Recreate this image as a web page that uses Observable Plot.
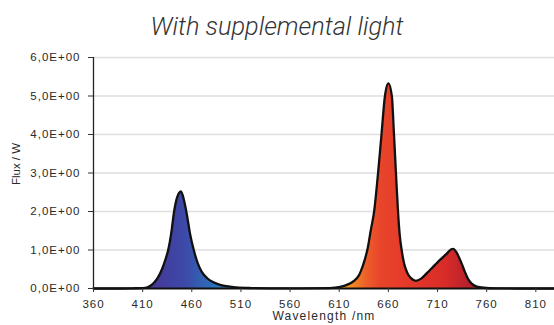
<!DOCTYPE html>
<html>
<head>
<meta charset="utf-8">
<script src="https://cdn.jsdelivr.net/npm/d3@7"></script>
<script src="https://cdn.jsdelivr.net/npm/@observablehq/plot@0.6"></script>
<style>
  html, body { margin: 0; padding: 0; background: #fff; }
  #title {
    width: 554px; height: 47px; box-sizing: border-box; padding-top: 12px;
    text-align: center; font-family: Roboto, "Open Sans", sans-serif;
    font-weight: 300; font-style: italic; font-size: 25.3px; line-height: 30px; color: #333;
  }
</style>
</head>
<body>
<div id="title">With supplemental light</div>
<div id="chart"></div>
<script>
// Spectrum samples (wavelength in nm, flux in W)
const wavelength = [360, 380, 400, 410, 415, 418, 422, 425, 430, 433, 436, 439, 442, 445, 449, 452, 455, 458, 462, 466, 470, 476, 482, 488, 495, 505, 520, 540, 570, 600, 611, 620, 625, 630, 632, 636, 639, 642, 645.5, 649.5, 653, 656.5, 660, 663.5, 665.7, 667.7, 669.8, 671.5, 673.5, 676, 679, 683, 688, 693, 700, 705, 710, 715, 720, 724, 726, 729, 732, 735, 738, 741, 745, 750, 757, 770, 800, 829];
const flux = [0, 0, 0.005, 0.01, 0.03, 0.07, 0.16, 0.26, 0.52, 0.74, 1.0, 1.42, 2.0, 2.36, 2.52, 2.3, 1.92, 1.45, 1.0, 0.66, 0.44, 0.26, 0.16, 0.1, 0.06, 0.03, 0.012, 0.005, 0.003, 0.01, 0.04, 0.12, 0.2, 0.34, 0.45, 0.75, 1.05, 1.5, 2.0, 3.0, 4.0, 5.0, 5.33, 5.0, 4.0, 3.0, 2.0, 1.4, 1.0, 0.65, 0.42, 0.27, 0.2, 0.25, 0.42, 0.55, 0.68, 0.8, 0.92, 1.02, 1.03, 0.95, 0.8, 0.62, 0.42, 0.25, 0.12, 0.05, 0.02, 0.005, 0, 0];

const xTicks = [360, 410, 460, 510, 560, 610, 660, 710, 760, 810];
const yTicks = [0, 1, 2, 3, 4, 5, 6];
const yTickLabels = ["0,0E+00", "1,0E+00", "2,0E+00", "3,0E+00", "4,0E+00", "5,0E+00", "6,0E+00"];
const xLabel = "Wavelength /nm";
const yLabel = "Flux / W";

// gradient colour stops (wavelength -> colour)
const stopWavelength = [415, 435, 455, 485, 612, 625, 638, 652, 680, 718, 745];
const stopColor = ["#4a3896", "#413f9f", "#3c4ba9", "#2a74bd", "#f5b020", "#f28526", "#ed5f29", "#e8452a", "#e4392a", "#d82c28", "#b31f2d"];

const data = wavelength.map((w, i) => ({w, f: flux[i]}));

const plot = Plot.plot({
  width: 554,
  height: 278,
  marginTop: 10,
  marginBottom: 37,
  marginLeft: 93,
  marginRight: 0,
  style: {fontFamily: "'Liberation Sans', Arial, sans-serif", fontSize: "11.5px", color: "#2a2a2a", letterSpacing: "1px", background: "#fff"},
  x: {domain: [360, 829]},
  y: {domain: [0, 6]},
  marks: [
    Plot.ruleY(yTicks.filter(d => d > 0), {stroke: "#dedede", strokeWidth: 1.5}),
    Plot.areaY(data, {x: "w", y: "f", fill: "url(#spectrumGrad)", curve: "monotone-x"}),
    Plot.lineY(data, {x: "w", y: "f", stroke: "#111", strokeWidth: 2.3, curve: "monotone-x"}),
    Plot.ruleY([0], {stroke: "#111", strokeWidth: 1.8}),
    Plot.ruleX([360], {y1: 0, y2: 6, stroke: "#222", strokeWidth: 1.3}),
    Plot.axisY({ticks: yTicks, tickFormat: (d, i) => yTickLabels[i], tickSize: 5, tickPadding: 8, label: null, stroke: "#333"}),
    Plot.axisX({ticks: xTicks, tickFormat: d => String(d), tickSize: 4, tickPadding: 7, label: null, stroke: "#333"}),
    Plot.text([xLabel], {frameAnchor: "bottom", textAnchor: "middle", dy: 31, fontSize: 12, fill: "#2a2a2a"}),
    Plot.text([yLabel], {frameAnchor: "left", textAnchor: "middle", rotate: -90, dx: -77, dy: -9, fontSize: 11.5, fill: "#2a2a2a"})
  ]
});

// per-label letter spacing
d3.select(plot).selectAll("text")
  .filter(function() { return this.textContent === yLabel; })
  .style("letter-spacing", "0px");
d3.select(plot).selectAll("text")
  .filter(function() { return this.textContent === xLabel; })
  .style("letter-spacing", "1.2px");

// add the spectral gradient, positioned through the x scale
const xs = plot.scale("x");
const ns = "http://www.w3.org/2000/svg";
const defs = document.createElementNS(ns, "defs");
const grad = document.createElementNS(ns, "linearGradient");
grad.setAttribute("id", "spectrumGrad");
grad.setAttribute("gradientUnits", "userSpaceOnUse");
const x0 = xs.apply(360), x1 = xs.apply(829);
grad.setAttribute("x1", x0); grad.setAttribute("x2", x1);
grad.setAttribute("y1", 0); grad.setAttribute("y2", 0);
stopWavelength.forEach((w, i) => {
  const s = document.createElementNS(ns, "stop");
  s.setAttribute("offset", (xs.apply(w) - x0) / (x1 - x0));
  s.setAttribute("stop-color", stopColor[i]);
  grad.appendChild(s);
});
defs.appendChild(grad);
plot.insertBefore(defs, plot.firstChild);

document.getElementById("chart").appendChild(plot);
</script>
</body>
</html>
